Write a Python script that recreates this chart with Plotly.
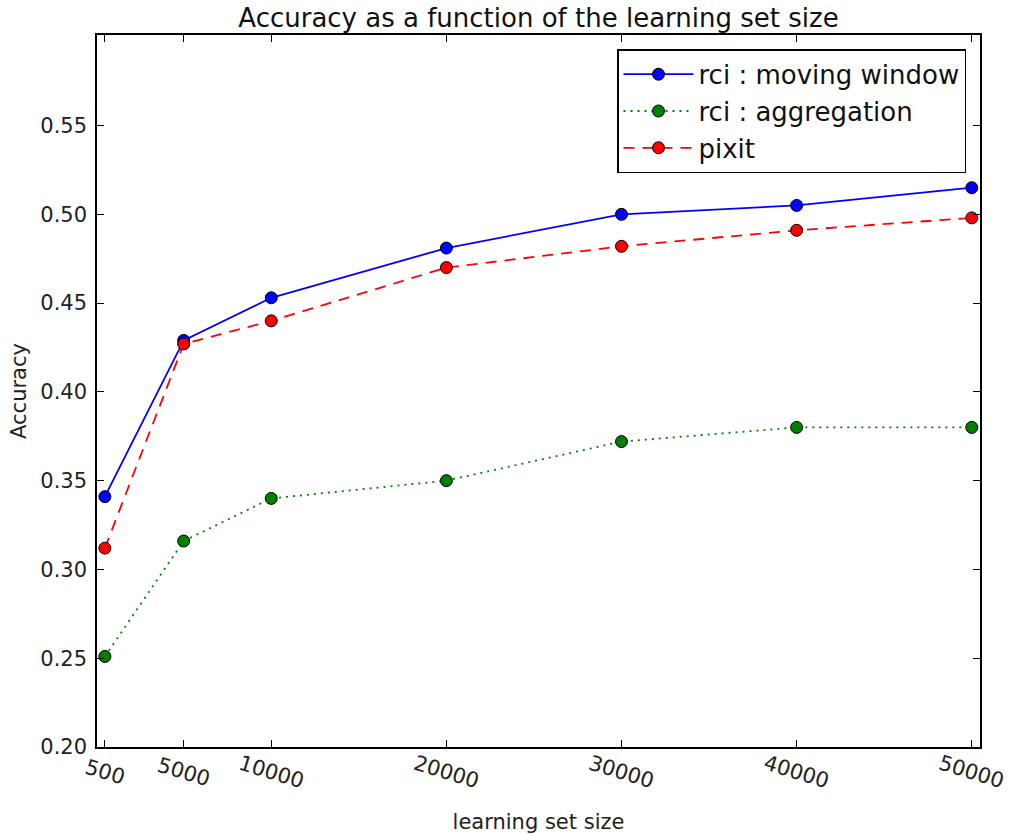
import plotly.graph_objects as go

sizes = [500, 5000, 10000, 20000, 30000, 40000, 50000]
tick_labels = ["500", "5000", "10000", "20000", "30000", "40000", "50000"]
moving_window = [0.341, 0.429, 0.453, 0.481, 0.500, 0.505, 0.515]
aggregation = [0.251, 0.316, 0.340, 0.350, 0.372, 0.380, 0.380]
pixit = [0.312, 0.427, 0.440, 0.470, 0.482, 0.491, 0.498]
y_ticks = [0.20, 0.25, 0.30, 0.35, 0.40, 0.45, 0.50, 0.55]

FONT = "DejaVu Sans"
marker_line = dict(color="black", width=1)

fig = go.Figure()
fig.add_trace(go.Scatter(
    x=sizes, y=moving_window, mode="lines+markers", name="rci : moving window",
    line=dict(color="#0000ff", width=1.8),
    marker=dict(color="#0000ff", size=12, line=marker_line)))
fig.add_trace(go.Scatter(
    x=sizes, y=aggregation, mode="lines+markers", name="rci : aggregation",
    line=dict(color="#007f00", width=1.8, dash="2px,5px"),
    marker=dict(color="#007f00", size=12, line=marker_line)))
fig.add_trace(go.Scatter(
    x=sizes, y=pixit, mode="lines+markers", name="pixit",
    line=dict(color="#ff0000", width=1.8, dash="11px,8px"),
    marker=dict(color="#ff0000", size=12, line=marker_line)))

for v, t in zip(sizes, tick_labels):
    fig.add_annotation(x=v, xref="x", y=0, yref="paper", yshift=-25,
                       text=t, showarrow=False, textangle=17,
                       xanchor="center", yanchor="middle",
                       font=dict(family=FONT, size=21, color="#222"))

axis_common = dict(showgrid=False, zeroline=False, showline=True, linecolor="black",
                   linewidth=1.5, mirror="ticks", ticks="inside", ticklen=7,
                   tickwidth=1, tickcolor="black", automargin=False)

fig.update_layout(
    width=1009, height=834,
    margin=dict(l=97, r=29, t=35, b=87),
    paper_bgcolor="white", plot_bgcolor="white",
    font=dict(family=FONT, color="#222"),
    title=dict(text="Accuracy as a function of the learning set size",
               x=(97 + 980) / 2 / 1009, xanchor="center", y=1 - 18 / 834, yanchor="middle",
               font=dict(family=FONT, size=26, color="#111")),
    xaxis=dict(range=[50, 50470], tickvals=sizes, showticklabels=False,
               title=dict(text="learning set size", standoff=68,
                          font=dict(family=FONT, size=21, color="#222")),
               **axis_common),
    yaxis=dict(range=[0.2, 0.601], tickvals=y_ticks, tickformat=".2f",
               tickfont=dict(family=FONT, size=21, color="#222"),
               ticklabelstandoff=4,
               title=dict(text="Accuracy", standoff=8,
                          font=dict(family=FONT, size=21, color="#222")),
               **axis_common),
    legend=dict(x=(966 - 97) / 883, xanchor="right", y=(746.7 - 49.3) / 711.7, yanchor="top",
                bordercolor="black", borderwidth=1.5, bgcolor="white",
                font=dict(family=FONT, size=26, color="#111"),
                itemwidth=70, tracegroupgap=0),
    showlegend=True,
)

fig.write_html("out.html")
